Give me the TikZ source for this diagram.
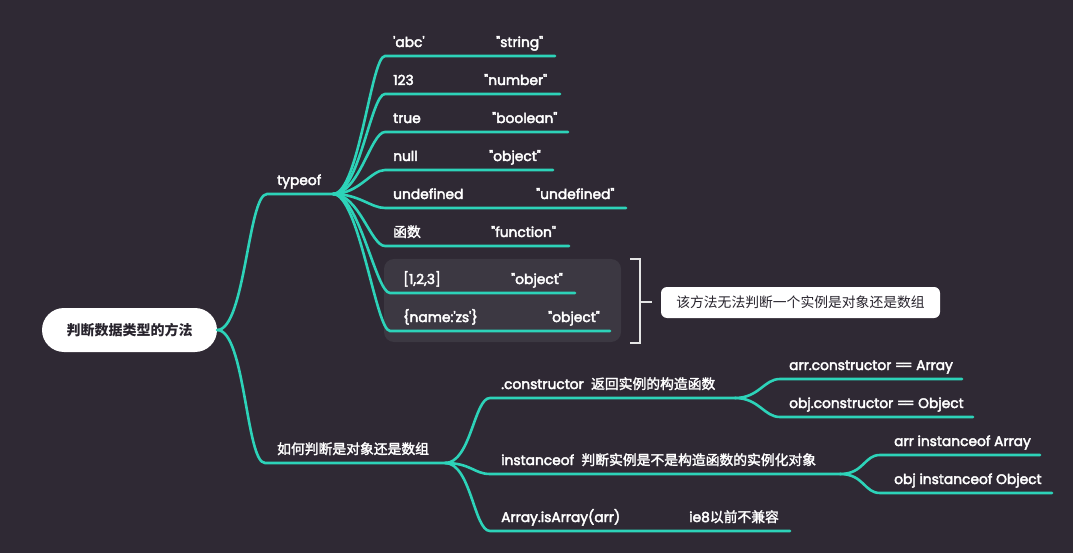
\documentclass[tikz,border=0pt]{standalone}
\usepackage{fontspec}
\usepackage{xcolor}
\usepackage{tikz}
\setmainfont{Poppins}[Ligatures=TeXOff, RawFeature={embolden=3}]
\newfontfamily\cjk{Noto Sans CJK SC}[RawFeature={embolden=2}]
\newfontfamily\cjkplain{Noto Sans CJK SC}

\definecolor{bgdark}{RGB}{47,41,52}
\definecolor{mindteal}{RGB}{45,211,185}
\definecolor{groupbg}{RGB}{60,56,66}
\definecolor{rootink}{RGB}{40,36,45}

\tikzset{
  branch/.style={draw=mindteal, line width=2.6pt, line cap=round},
  topic/.style={anchor=base west, inner sep=0pt, text=white,
                font=\fontsize{13.8}{15}\selectfont},
  rootbox/.style={fill=white, rounded corners=22pt, minimum width=175pt,
                  minimum height=44pt, text=rootink,
                  font=\fontsize{14}{15}\selectfont\cjkplain\bfseries},
  notebox/.style={fill=white, rounded corners=6pt, minimum width=279pt,
                  minimum height=31pt, text=rootink,
                  font=\fontsize{13.8}{15}\selectfont\cjkplain},
  brk/.style={draw=white!90!black, line width=2pt},
}
\newcommand{\dbleq}{=\kern-2.5pt=}

\begin{document}
\begin{tikzpicture}[x=1pt, y=-1pt]
    \fill[bgdark] (0,0) rectangle (1073,553);
    \useasboundingbox (0,0) rectangle (1073,553);

    % group box behind the two array/object leaves
    \fill[groupbg, rounded corners=10pt] (384,259) rectangle (621,342);

    % root
    \node[rootbox] (root) at (129.5,330) {判断数据类型的方法};

    % typeof branch
    \coordinate (typeof-s) at (267,194);
    \coordinate (typeof-e) at (333,194);
    \node[topic] (typeof) at (277,185) {typeof};
    \draw[branch] (root.east) .. controls +(28,0) and +(-19,0) .. (typeof-s) -- (typeof-e);

    \coordinate (abc-s) at (385,56);   \coordinate (abc-e) at (555,56);
    \coordinate (num-s) at (385,94);   \coordinate (num-e) at (560,94);
    \coordinate (bool-s) at (385,132); \coordinate (bool-e) at (568,132);
    \coordinate (null-s) at (385,170); \coordinate (null-e) at (553,170);
    \coordinate (undef-s) at (385,208);\coordinate (undef-e) at (626,208);
    \coordinate (fn-s) at (385,246);   \coordinate (fn-e) at (569,246);
    \coordinate (arr-s) at (390,293);  \coordinate (arr-e) at (575,293);
    \coordinate (obj-s) at (390,331);  \coordinate (obj-e) at (610,331);

    \node[topic] (abc) at (393,47) {'abc'};
    \node[topic] (abc-v) at (496,47) {"string"};
    \node[topic] (num) at (393,85) {123};
    \node[topic] (num-v) at (484,85) {"number"};
    \node[topic] (bool) at (393,123) {true};
    \node[topic] (bool-v) at (492,123) {"boolean"};
    \node[topic] (null) at (393,161) {null};
    \node[topic] (null-v) at (489,161) {"object"};
    \node[topic] (undef) at (393,199) {undefined};
    \node[topic] (undef-v) at (536,199) {"undefined"};
    \node[topic] (fn) at (393,237) {\cjk 函数};
    \node[topic] (fn-v) at (491,237) {"function"};
    \node[topic] (arr) at (403,284) {[1,2,3]};
    \node[topic] (arr-v) at (511,284) {"object"};
    \node[topic] (obj) at (403,322) {\{name:'zs'\}};
    \node[topic] (obj-v) at (548,322) {"object"};

    \foreach \leaf in {abc,num,bool,null,undef,fn,arr,obj}
        \draw[branch] (typeof-e) .. controls +(26,0) and +(-14,0) .. (\leaf-s) -- (\leaf-e);

    % bracket and note
    \draw[brk] (630,259) -- (640,259) -- (640,343) -- (630,343);
    \draw[brk] (640,302) -- (652,302);
    \node[notebox] (note) at (800.5,302.5) {该方法无法判断一个实例是对象还是数组};

    % second branch
    \coordinate (ask-s) at (265,463);
    \coordinate (ask-e) at (445,463);
    \node[topic] (ask) at (277,454) {\cjk 如何判断是对象还是数组};
    \draw[branch] (root.east) .. controls +(28,0) and +(-19,0) .. (ask-s) -- (ask-e);

    \coordinate (ctor-s) at (490,398); \coordinate (ctor-e) at (735,398);
    \coordinate (inst-s) at (490,474); \coordinate (inst-e) at (840,474);
    \coordinate (isarr-s) at (490,531);\coordinate (isarr-e) at (790,531);
    \node[topic] (ctor) at (501,389) {.constructor\ \ {\cjk 返回实例的构造函数}};
    \node[topic] (inst) at (501,465) {instanceof\ \ {\cjk 判断实例是不是构造函数的实例化对象}};
    \node[topic] (isarr) at (501,522) {Array.isArray(arr)};
    \node[topic] (isarr-v) at (689,522) {ie8{\cjk 以前不兼容}};
    \foreach \leaf in {ctor,inst,isarr}
        \draw[branch] (ask-e) .. controls +(26,0) and +(-16,0) .. (\leaf-s) -- (\leaf-e);

    \coordinate (ctora-s) at (780,379); \coordinate (ctora-e) at (962,379);
    \coordinate (ctoro-s) at (780,417); \coordinate (ctoro-e) at (973,417);
    \node[topic] (ctora) at (789,370) {arr.constructor \dbleq{} Array};
    \node[topic] (ctoro) at (789,408) {obj.constructor \dbleq{} Object};
    \foreach \leaf in {ctora,ctoro}
        \draw[branch] (ctor-e) .. controls +(24,0) and +(-16,0) .. (\leaf-s) -- (\leaf-e);

    \coordinate (insta-s) at (880,455); \coordinate (insta-e) at (1040,455);
    \coordinate (insto-s) at (880,493); \coordinate (insto-e) at (1052,493);
    \node[topic] (insta) at (894,446) {arr instanceof Array};
    \node[topic] (insto) at (894,484) {obj instanceof Object};
    \foreach \leaf in {insta,insto}
        \draw[branch] (inst-e) .. controls +(24,0) and +(-16,0) .. (\leaf-s) -- (\leaf-e);
\end{tikzpicture}
\end{document}
